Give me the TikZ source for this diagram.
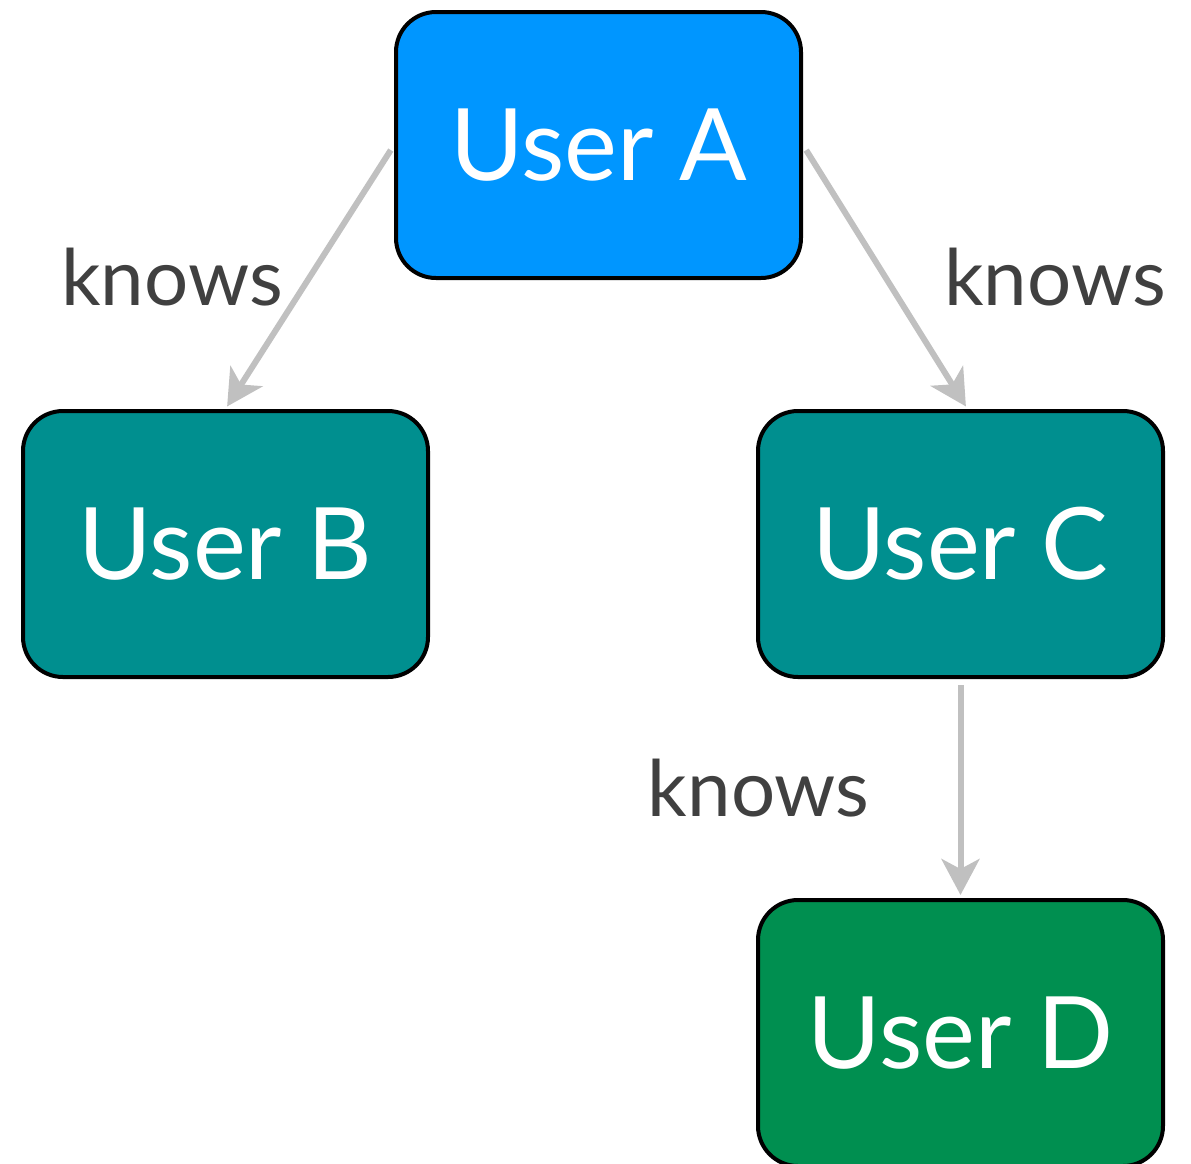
\documentclass[tikz,border=0pt]{standalone}
\usepackage{fontspec}
\setmainfont{Lato}
\usepackage{tikz}
\usetikzlibrary{arrows.meta, positioning}

\definecolor{userblue}{HTML}{0096FF}
\definecolor{userteal}{HTML}{008F8F}
\definecolor{usergreen}{HTML}{008F50}
\definecolor{linkgrey}{HTML}{C0C0C0}
\definecolor{labelgrey}{HTML}{404040}

\begin{document}
\begin{tikzpicture}[
        x=0.5pt, y=-0.5pt,
        user/.style={rectangle, draw=black, line width=2pt, rounded corners=20pt,
                    minimum width=202.5pt, minimum height=133pt, align=center,
                    text=white, font=\fontsize{50}{60}\selectfont},
        rel/.style={-{Stealth[length=18pt, width=19pt, inset=5pt]}, line width=3pt,
                    linkgrey, shorten <=3pt, shorten >=1.5pt},
        lbl/.style={text=labelgrey, font=\fontsize{39}{46}\selectfont, inner sep=0pt}
    ]
    \useasboundingbox (0,0) rectangle (1191,1164);

    % Top
    \node[user, fill=userblue] (ua) at (598.5,145) {User A};

    % Row 2
    \node[user, fill=userteal, below left=64.5pt and -18pt of ua.south west, anchor=north east] (ub) {User B};
    \node[user, fill=userteal, below right=64.5pt and -23.5pt of ua.south east, anchor=north west] (uc) {User C};

    % Row 3
    \node[user, fill=usergreen, below=109.5pt of uc] (ud) {User D};

    % Connections
    \draw[rel] (ua.west) -- (ub.north) node[lbl, midway, left=12pt] {knows};
    \draw[rel] (ua.east) -- ([xshift=3.5pt]uc.north) node[lbl, midway, right=28pt] {knows};
    \draw[rel] (uc.south) -- (ud.north) node[lbl, midway, left=44pt] {knows};
\end{tikzpicture}
\end{document}
